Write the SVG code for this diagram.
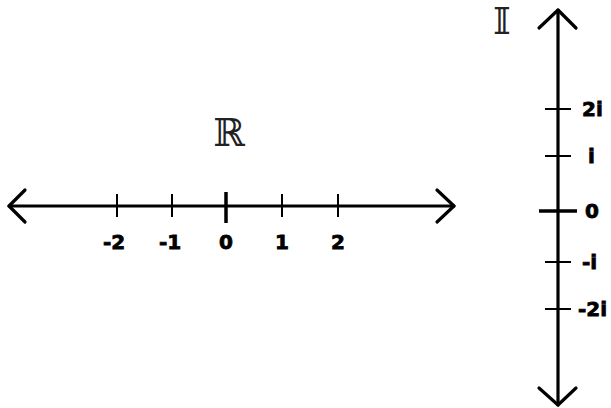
<svg xmlns="http://www.w3.org/2000/svg" width="611" height="408" viewBox="0 0 611 408">
<style>
.ax{stroke:#000;stroke-width:3.2;fill:none;stroke-linecap:round;stroke-linejoin:round}
.tk{stroke:#000;stroke-width:2}
.tk0{stroke:#000;stroke-width:3.5}
.lb{font-family:"DejaVu Sans",Verdana,sans-serif;font-weight:bold;font-size:20px;fill:#000;stroke:#000;stroke-width:0.8}
.ds{font-family:"DejaVu Serif","DejaVu Sans",serif;font-size:38px;fill:#222}
</style>
<rect width="611" height="408" fill="#fff"/>
<g id="connectors">
<g id="real-axis">
<line class="ax" x1="9" y1="206" x2="454" y2="206"/>
<polyline class="ax" points="25,190 9,206 25,222"/>
<polyline class="ax" points="437,190 454,206 437,222"/>
</g>
<g id="imag-axis">
<line class="ax" x1="558" y1="10" x2="558" y2="405"/>
<polyline class="ax" points="539,28 558,10 576,28"/>
<polyline class="ax" points="539,388 558,405 576,388"/>
</g>
</g>
<g id="real-ticks">
<line class="tk" x1="117" y1="194" x2="117" y2="217"/>
<line class="tk" x1="172" y1="194" x2="172" y2="217"/>
<line class="tk0" x1="226" y1="192" x2="226" y2="223"/>
<line class="tk" x1="282" y1="194" x2="282" y2="217"/>
<line class="tk" x1="338" y1="194" x2="338" y2="217"/>
</g>
<g id="real-labels" class="lb" text-anchor="middle">
<text x="114" y="249">-2</text>
<text x="170" y="249">-1</text>
<text x="226" y="249">0</text>
<text x="282" y="249">1</text>
<text x="338" y="249">2</text>
</g>
<g id="imag-ticks">
<line class="tk" x1="545" y1="109" x2="571" y2="109"/>
<line class="tk" x1="545" y1="156" x2="571" y2="156"/>
<line class="tk0" x1="539" y1="211" x2="577" y2="211"/>
<line class="tk" x1="545" y1="262" x2="571" y2="262"/>
<line class="tk" x1="545" y1="309" x2="571" y2="309"/>
</g>
<g id="imag-labels" class="lb">
<text x="582" y="116">2i</text>
<text x="588" y="163">i</text>
<text x="585" y="218">0</text>
<text x="582" y="269">-i</text>
<text x="578" y="316">-2i</text>
</g>
<g id="R-label"><text class="ds" x="229" y="146" text-anchor="middle">ℝ</text></g>
<g id="I-label"><text class="ds" x="502" y="34" text-anchor="middle">𝕀</text></g>
</svg>
